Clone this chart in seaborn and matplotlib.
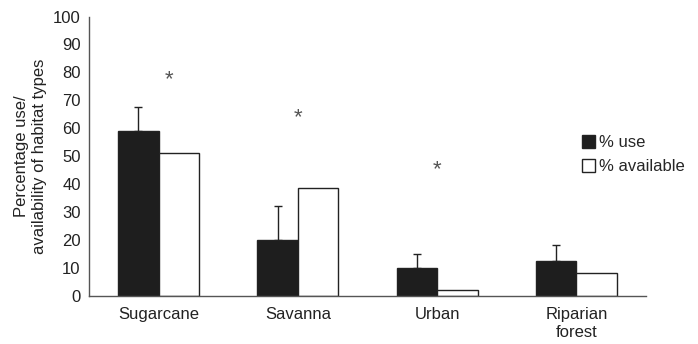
import pandas as pd
import seaborn as sns
import matplotlib.pyplot as plt
from matplotlib.patches import Patch

habitats = ["Sugarcane", "Savanna", "Urban", "Riparian\nforest"]
pct_use = [59.1, 20.0, 9.9, 12.4]
pct_available = [51.1, 38.7, 2.3, 8.1]
use_err = [8.4, 12.1, 5.3, 5.9]
# asterisk marks: category index, height
star_cat = [0, 1, 2]
star_y = [78.5, 65, 46.3]

df = pd.DataFrame({
    "habitat": habitats * 2,
    "value": pct_use + pct_available,
    "kind": ["% use"] * 4 + ["% available"] * 4,
})

sns.set_style("white")
plt.rcParams["font.family"] = ["Liberation Sans", "DejaVu Sans"]
fs = 12

fig = plt.figure(figsize=(6.98, 3.44), dpi=100)
ax = fig.add_axes([0.1275, 0.1395, 0.798, 0.8125])

sns.barplot(data=df, x="habitat", y="value", hue="kind", order=habitats,
            palette={"% use": "#1e1e1e", "% available": "white"},
            edgecolor="#222222", linewidth=1, width=0.58, errorbar=None,
            ax=ax, legend=False)

# upper error bars on the use bars
bars = ax.containers[0]
xs = [b.get_x() + b.get_width() / 2 for b in bars]
ax.errorbar(xs, pct_use, yerr=[[0] * 4, use_err], fmt="none",
            ecolor="#222222", elinewidth=1, capsize=3, capthick=1)

for c, y in zip(star_cat, star_y):
    dx = 0.075 if c == 0 else 0
    ax.text(c + dx, y - 1.2, "*", ha="center", va="center", fontsize=16, color="#555555")

ax.set_xlim(-0.5, 3.5)
ax.set_ylim(0, 100)
ax.set_yticks(range(0, 101, 10))
ax.set_xticks(range(4))
ax.set_xticklabels(habitats, fontsize=fs, color="#222222", linespacing=1.25)
ax.set_xticks([-0.5, 0.5, 1.5, 2.5, 3.5], minor=True)
ax.tick_params(axis="x", which="major", length=0, pad=8)
ax.tick_params(axis="x", which="minor", direction="out", length=4, color="#555555", width=1)
ax.tick_params(axis="y", direction="out", length=4, color="#555555", width=1,
               labelsize=fs, labelcolor="#222222", pad=2)
ax.set_xlabel("")
ax.set_ylabel("Percentage use/\navailability of habitat types", fontsize=fs,
              color="#222222", labelpad=4, linespacing=1.3)

sns.despine(ax=ax)
for s in ["left", "bottom"]:
    ax.spines[s].set_color("#555555")
    ax.spines[s].set_linewidth(1)

handles = [Patch(facecolor="#1e1e1e", edgecolor="#222222", label="% use"),
           Patch(facecolor="white", edgecolor="#222222", label="% available")]
ax.legend(handles=handles, loc="upper left", bbox_to_anchor=(0.885, 0.575),
          frameon=False, handlelength=0.8, handleheight=0.8, handletextpad=0.25,
          labelspacing=0.5, fontsize=fs, borderaxespad=0, borderpad=0)

fig.savefig("out.png", dpi=100)
